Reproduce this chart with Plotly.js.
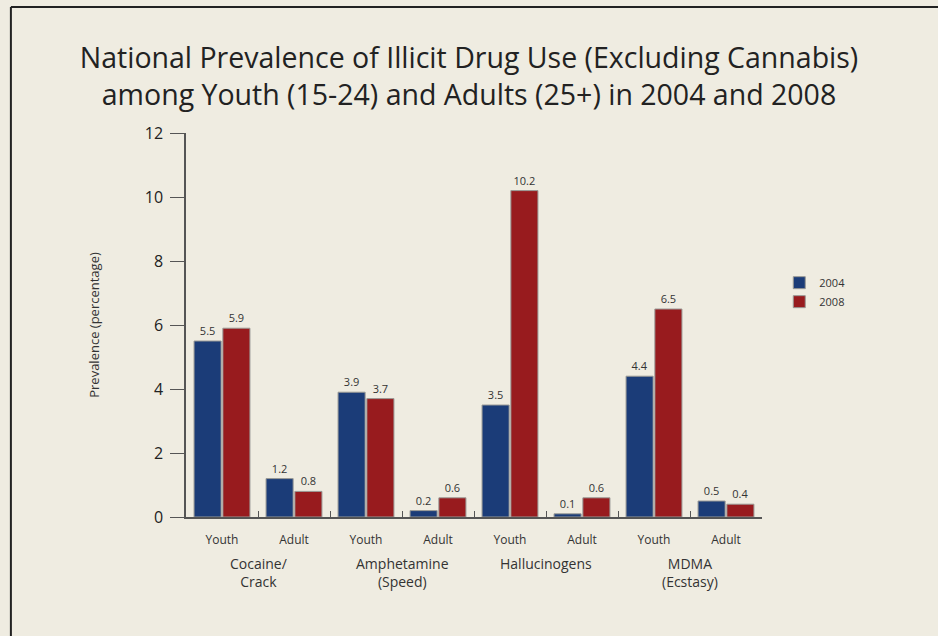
<!DOCTYPE html>
<html><head><meta charset="utf-8">
<script src="https://cdn.plot.ly/plotly-3.0.1.min.js"></script>
<style>html,body{margin:0;padding:0;background:#efece1;}</style>
</head><body>
<div id="chart" style="width:938px;height:636px;"></div>
<script>
const categories = ["Youth_Cocaine", "Adult_Cocaine", "Youth_Amph", "Adult_Amph", "Youth_Hall", "Adult_Hall", "Youth_MDMA", "Adult_MDMA"];
const tickLabels = ["Youth", "Adult", "Youth", "Adult", "Youth", "Adult", "Youth", "Adult"];
const groupLabels = ["Cocaine/<br>Crack", "Amphetamine<br>(Speed)", "Hallucinogens", "MDMA<br>(Ecstasy)"];
const values2004 = [5.5, 1.2, 3.9, 0.2, 3.5, 0.1, 4.4, 0.5];
const values2008 = [5.9, 0.8, 3.7, 0.6, 10.2, 0.6, 6.5, 0.4];
const seriesNames = ["2004", "2008"];

const font = "Open Sans, Noto Sans, sans-serif";
const mk = (name, vals, color) => ({
  type: "bar", name: name, x: categories, y: vals,
  text: vals.map(v => v.toFixed(1)), textposition: "outside",
  textfont: {size: 11, color: "#333", family: font}, cliponaxis: false,
  marker: {color: color, line: {color: "#9a9a96", width: 1}}
});
const data = [mk(seriesNames[0], values2004, "#1b3c78"), mk(seriesNames[1], values2008, "#981b1e")];

const annotations = groupLabels.map((g, i) => ({
  text: g, x: 2 * i + 0.5, xref: "x", y: -0.092, yref: "paper",
  xanchor: "center", yanchor: "top", showarrow: false,
  font: {size: 14, color: "#333", family: font}
}));

const layout = {
  width: 938, height: 636,
  paper_bgcolor: "#efece1", plot_bgcolor: "#efece1",
  margin: {l: 186, r: 176, t: 133, b: 119},
  title: {text: "National Prevalence of Illicit Drug Use (Excluding Cannabis)<br>among Youth (15-24) and Adults (25+) in 2004 and 2008",
    font: {size: 28.5, color: "#222", family: font}, x: 0.5, xanchor: "center", y: 0.893, yanchor: "top"},
  barmode: "group", bargap: 0.2, bargroupgap: 0.06,
  xaxis: {type: "category", tickvals: categories, ticktext: tickLabels, tickson: "boundaries",
    ticks: "inside", ticklen: 6, tickcolor: "#555", showline: true, linecolor: "#555", linewidth: 1.5,
    showgrid: false, zeroline: false, tickfont: {size: 12, color: "#333", family: font}, ticklabelstandoff: 11,
    range: [-0.5, 7.5]},
  yaxis: {range: [0, 12], dtick: 2, ticks: "outside", ticklen: 14, tickcolor: "#555",
    showline: true, linecolor: "#555", linewidth: 1.5, showgrid: false, zeroline: false,
    tickfont: {size: 16, color: "#222", family: font}, ticklabelstandoff: 4,
    title: {text: "Prevalence (percentage)", font: {size: 13, color: "#333", family: font}, standoff: 42}},
  legend: {x: 1.03, y: 0.648, xanchor: "left", yanchor: "top", bgcolor: "rgba(0,0,0,0)",
    font: {size: 11, color: "#333", family: font}, itemwidth: 30, tracegroupgap: 0},
  showlegend: true,
  annotations: annotations,
  shapes: [
    {type: "line", xref: "paper", yref: "paper", x0: -0.304, x1: -0.304, y0: -0.32, y1: 1.328, line: {color: "#222", width: 2}},
    {type: "line", xref: "paper", yref: "paper", x0: -0.304, x1: 1.32, y0: 1.328, y1: 1.328, line: {color: "#222", width: 2}}
  ]
};
Plotly.newPlot("chart", data, layout, {displayModeBar: false});
</script>
</body></html>
